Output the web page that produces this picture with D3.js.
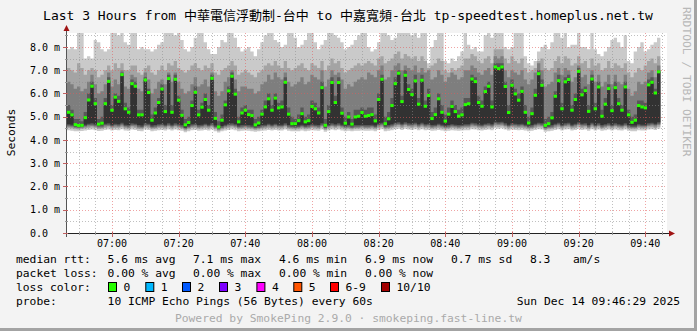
<!DOCTYPE html>
<html>
<head>
<meta charset="utf-8">
<script src="https://cdn.jsdelivr.net/npm/d3@7"></script>
<style>
  body { margin: 0; background: #f3f3f3; }
  svg { display: block; }
  text { font-family: "DejaVu Sans Mono", "Noto Sans CJK TC", monospace; }
</style>
</head>
<body>
<svg id="chart" width="697" height="331"></svg>
<script>
// median rtt per 60s step, in ms (green marks)
const median = [
  5.19,5.08,4.66,4.62,4.63,4.96,5.72,6.31,5.56,4.68,4.72,5.56,6.52,5.28,5.84,5.66,6.81,5.34,5.19,6.42,6.31,5.08,5.08,6.58,6.04,4.85,5.16,5.61,6.19,5.22,
  6.64,5.19,6.61,5.71,5.06,4.65,4.75,5.48,6.05,5.08,5.41,5.74,5.28,6.65,4.93,4.56,4.85,5.51,6.11,6.74,5.97,4.78,5.16,5.28,5.09,5.05,4.65,4.73,5.11,5.42,
  5.77,5.28,5.80,5.38,5.42,6.48,5.11,4.70,4.70,4.83,5.13,4.78,4.83,5.44,5.34,5.16,6.25,4.63,5.22,6.47,5.61,6.47,5.15,4.72,4.99,4.68,4.99,5.02,5.18,5.02,
  5.05,5.09,4.82,5.74,6.61,4.70,4.91,5.48,6.42,6.87,5.65,6.78,6.17,5.95,6.54,5.54,6.57,5.45,5.91,4.92,5.09,5.77,5.19,4.81,5.11,5.44,5.22,5.02,5.08,5.52,
  5.56,6.62,6.51,5.61,5.45,6.08,6.31,5.42,7.14,7.07,7.14,6.30,5.18,6.35,5.98,5.71,6.09,5.19,4.73,5.13,5.92,6.85,6.35,4.63,4.70,4.95,5.88,6.55,5.34,6.50,
  6.60,5.28,5.74,6.95,5.94,6.12,5.23,6.62,5.34,6.28,5.02,5.54,6.21,5.26,6.25,5.56,5.28,6.28,5.08,4.76,4.85,5.48,5.42,5.38,6.37,6.48,6.02,6.93
];

// sorted pings, upper half (smoke tops), ms
const ping10 = [
  7.9,8.0,7.9,8.6,8.6,7.5,7.6,7.5,8.3,8.2,7.9,7.8,7.9,8.6,8.6,8.5,8.6,8.2,8.1,8.6,8.6,7.9,8.0,7.9,7.9,7.8,7.9,8.1,8.2,8.6,
  8.6,8.6,8.5,8.6,8.3,7.9,7.8,8.0,8.4,8.6,8.6,8.2,7.9,7.7,7.7,8.0,8.3,8.2,8.6,8.6,8.4,8.0,7.8,7.9,8.0,7.8,7.6,7.9,8.2,8.5,
  8.6,8.6,8.3,8.2,8.0,8.1,8.6,8.6,8.4,8.0,8.1,8.3,8.6,8.6,8.2,7.9,8.1,8.3,8.6,8.6,8.5,8.4,8.2,7.9,8.0,8.1,8.3,8.5,8.6,8.6,
  8.0,7.8,7.9,8.2,8.6,8.6,8.5,8.3,8.4,8.6,8.6,8.6,8.6,8.5,8.6,8.4,8.6,8.6,7.3,8.0,8.3,8.6,8.6,7.4,7.3,7.5,7.4,7.6,7.8,8.6,
  8.1,7.9,8.0,7.8,7.8,8.5,8.6,8.4,8.6,8.6,8.6,8.0,7.9,8.0,8.6,8.6,8.6,7.6,7.3,7.2,7.4,7.8,8.0,8.1,7.9,8.2,8.6,8.6,8.4,8.6,
  8.0,8.1,8.1,8.6,8.0,8.0,7.9,8.6,7.9,7.7,7.6,7.8,8.0,8.3,8.4,8.2,8.0,8.5,7.4,7.3,7.8,8.0,8.2,7.8,7.9,8.1,8.2,8.4
];
const ping9 = [
  7.1,7.0,6.9,7.3,7.1,6.8,7.0,7.1,7.0,6.7,6.8,7.0,7.2,7.0,7.3,7.1,7.3,7.0,7.0,7.2,7.2,6.9,6.8,7.1,7.2,6.9,6.8,7.0,7.2,7.0,
  7.3,7.2,7.4,7.1,7.0,6.9,7.0,7.2,7.3,7.1,7.0,7.2,7.1,7.3,6.9,6.8,7.0,7.1,7.2,7.4,7.2,6.8,6.9,7.0,6.9,6.8,6.7,6.9,7.0,7.2,
  7.3,7.2,7.4,7.2,7.1,7.4,7.1,7.0,7.1,7.2,7.3,7.1,7.0,7.3,7.2,7.1,7.4,7.0,7.2,7.5,7.3,7.4,7.1,6.9,7.0,7.1,7.2,7.3,7.2,7.3,
  7.4,7.3,7.2,7.5,7.6,7.3,7.4,7.5,7.7,7.8,7.5,7.7,7.6,7.5,7.6,7.4,7.6,7.4,7.1,7.2,7.3,7.5,7.4,7.0,6.9,7.1,7.0,7.1,7.2,7.5,
  7.5,7.7,7.6,7.4,7.3,7.5,7.6,7.3,7.9,7.9,7.9,7.5,7.3,7.6,7.4,7.3,7.5,7.1,6.9,7.0,7.1,7.4,7.5,7.1,7.0,7.1,7.4,7.6,7.3,7.6,
  7.5,7.2,7.3,7.6,7.3,7.4,7.1,7.5,7.2,7.3,7.0,7.1,7.4,7.1,7.3,7.2,7.1,7.3,6.9,6.7,6.9,7.1,7.0,7.2,7.4,7.5,7.3,7.6
];
const ping8 = [
  6.5,6.4,6.2,6.3,6.1,6.2,6.5,6.8,6.4,6.0,6.1,6.4,6.9,6.3,6.6,6.4,7.0,6.3,6.2,6.8,6.7,6.2,6.1,6.9,6.6,6.0,6.2,6.5,6.6,6.4,
  6.9,6.5,6.9,6.5,6.2,6.0,6.1,6.4,6.7,6.3,6.4,6.6,6.3,6.9,6.1,5.9,6.1,6.5,6.7,7.0,6.6,6.1,6.3,6.3,6.2,6.2,6.0,6.1,6.4,6.5,
  6.8,6.6,6.9,6.7,6.6,6.9,6.5,6.3,6.4,6.5,6.7,6.4,6.5,6.8,6.7,6.6,7.0,6.3,6.6,7.0,6.8,6.9,6.6,6.2,6.4,6.3,6.5,6.6,6.7,6.6,
  6.9,6.8,6.7,7.0,7.2,6.6,6.7,7.0,7.2,7.3,7.0,7.2,7.1,7.0,7.2,6.9,7.1,6.9,7.0,6.6,6.7,7.0,6.8,6.5,6.7,6.9,6.8,6.6,6.7,7.0,
  7.0,7.2,7.1,6.9,6.8,7.0,7.1,6.8,7.6,7.5,7.6,7.0,6.7,7.0,6.9,6.8,7.0,6.6,6.4,6.6,6.9,7.3,7.0,6.3,6.4,6.5,6.9,7.1,6.8,7.1,
  7.0,6.5,6.7,7.2,6.7,6.8,6.4,7.0,6.5,6.8,6.3,6.5,6.8,6.4,6.8,6.5,6.4,6.8,6.2,5.9,6.1,6.5,6.4,6.5,6.9,7.0,6.7,7.2
];
const ping7 = [
  5.5,5.3,4.9,4.9,4.8,5.2,6.0,6.5,5.8,4.9,5.0,5.8,6.7,5.5,6.0,5.9,6.9,5.6,5.4,6.6,6.5,5.3,5.3,6.7,6.2,5.1,5.4,5.8,6.4,5.5,
  6.8,5.5,6.8,5.9,5.3,4.9,5.0,5.7,6.3,5.3,5.6,6.0,5.5,6.8,5.2,4.8,5.1,5.7,6.3,6.9,6.2,5.0,5.4,5.5,5.3,5.3,4.9,5.0,5.3,5.7,
  6.0,5.5,6.0,5.6,5.7,6.7,5.4,5.0,4.9,5.1,5.4,5.0,5.1,5.7,5.6,5.4,6.5,4.9,5.5,6.7,5.9,6.7,5.4,5.0,5.2,4.9,5.3,5.3,5.4,5.3,
  5.4,5.4,5.1,6.0,6.8,5.0,5.2,5.8,6.7,7.0,5.9,7.0,6.4,6.2,6.8,5.8,6.8,5.7,6.2,5.2,5.4,6.0,5.5,5.1,5.4,5.7,5.5,5.3,5.4,5.8,
  5.8,6.8,6.7,5.9,5.7,6.3,6.5,5.7,7.3,7.3,7.3,6.5,5.5,6.6,6.2,6.0,6.3,5.5,5.0,5.4,6.2,7.0,6.6,4.9,5.0,5.2,6.1,6.8,5.6,6.7,
  6.8,5.5,6.0,7.1,6.2,6.3,5.5,6.8,5.6,6.5,5.3,5.8,6.4,5.5,6.5,5.8,5.5,6.5,5.3,5.0,5.1,5.7,5.7,5.6,6.6,6.7,6.2,7.0
];
// sorted pings, lower half (smoke bottoms), ms
const ping5 = [
  4.68,4.66,4.60,4.58,4.60,4.66,4.70,4.72,4.68,4.62,4.64,4.70,4.72,4.66,4.70,4.68,4.74,4.66,4.64,4.72,4.70,4.64,4.62,4.72,4.70,4.62,4.64,4.68,4.70,4.66,
  4.72,4.66,4.72,4.68,4.64,4.54,4.62,4.68,4.70,4.64,4.66,4.70,4.66,4.72,4.62,4.52,4.60,4.66,4.70,4.72,4.68,4.62,4.64,4.66,4.64,4.62,4.58,4.60,4.64,4.66,
  4.70,4.66,4.70,4.66,4.66,4.72,4.64,4.62,4.60,4.62,4.66,4.62,4.64,4.68,4.66,4.64,4.72,4.58,4.66,4.72,4.68,4.72,4.66,4.62,4.64,4.60,4.64,4.64,4.66,4.64,
  4.64,4.66,4.62,4.70,4.74,4.62,4.64,4.68,4.74,4.76,4.70,4.76,4.72,4.70,4.74,4.68,4.74,4.68,4.70,4.64,4.66,4.70,4.66,4.62,4.64,4.68,4.66,4.64,4.66,4.68,
  4.68,4.74,4.72,4.68,4.66,4.70,4.72,4.68,4.78,4.76,4.78,4.72,4.66,4.72,4.70,4.68,4.70,4.66,4.62,4.64,4.70,4.74,4.72,4.58,4.62,4.64,4.70,4.74,4.66,4.72,
  4.74,4.66,4.70,4.76,4.70,4.72,4.64,4.74,4.66,4.72,4.64,4.68,4.72,4.66,4.72,4.68,4.66,4.72,4.64,4.62,4.62,4.68,4.66,4.66,4.72,4.74,4.70,4.76
];
const ping4 = [
  4.62,4.60,4.56,4.54,4.56,4.60,4.64,4.66,4.62,4.58,4.58,4.64,4.66,4.60,4.64,4.62,4.68,4.60,4.58,4.66,4.64,4.58,4.56,4.66,4.64,4.56,4.58,4.62,4.64,4.60,
  4.66,4.60,4.66,4.62,4.58,4.50,4.56,4.62,4.64,4.58,4.60,4.64,4.60,4.66,4.56,4.48,4.54,4.60,4.64,4.66,4.62,4.56,4.58,4.60,4.58,4.56,4.52,4.54,4.58,4.60,
  4.64,4.60,4.64,4.60,4.60,4.66,4.58,4.56,4.54,4.56,4.60,4.56,4.58,4.62,4.60,4.58,4.66,4.52,4.60,4.66,4.62,4.66,4.60,4.56,4.58,4.54,4.58,4.58,4.60,4.58,
  4.58,4.60,4.56,4.64,4.68,4.56,4.58,4.62,4.68,4.70,4.64,4.70,4.66,4.64,4.68,4.62,4.68,4.62,4.64,4.58,4.60,4.64,4.60,4.56,4.58,4.62,4.60,4.58,4.60,4.62,
  4.62,4.68,4.66,4.62,4.60,4.64,4.66,4.62,4.72,4.70,4.72,4.66,4.60,4.66,4.64,4.62,4.64,4.60,4.56,4.58,4.64,4.68,4.66,4.52,4.56,4.58,4.64,4.68,4.60,4.66,
  4.68,4.60,4.64,4.70,4.64,4.66,4.58,4.68,4.60,4.66,4.58,4.62,4.66,4.60,4.66,4.62,4.60,4.66,4.58,4.56,4.56,4.62,4.60,4.60,4.66,4.68,4.64,4.70
];
const ping3 = [
  4.57,4.55,4.51,4.50,4.52,4.55,4.58,4.60,4.57,4.53,4.53,4.58,4.60,4.55,4.58,4.57,4.62,4.55,4.53,4.60,4.58,4.53,4.51,4.60,4.58,4.51,4.53,4.57,4.58,4.55,
  4.60,4.55,4.60,4.57,4.53,4.46,4.51,4.57,4.58,4.53,4.55,4.58,4.55,4.60,4.51,4.44,4.50,4.55,4.58,4.60,4.57,4.51,4.53,4.55,4.53,4.51,4.48,4.50,4.53,4.55,
  4.58,4.55,4.58,4.55,4.55,4.60,4.53,4.51,4.50,4.51,4.55,4.51,4.53,4.57,4.55,4.53,4.60,4.48,4.55,4.60,4.57,4.60,4.55,4.51,4.53,4.50,4.53,4.53,4.55,4.53,
  4.53,4.55,4.51,4.58,4.62,4.51,4.53,4.57,4.62,4.64,4.58,4.64,4.60,4.58,4.62,4.57,4.62,4.57,4.58,4.53,4.55,4.58,4.55,4.51,4.53,4.57,4.55,4.53,4.55,4.57,
  4.57,4.62,4.60,4.57,4.55,4.58,4.60,4.57,4.66,4.64,4.66,4.60,4.55,4.60,4.58,4.57,4.58,4.55,4.51,4.53,4.58,4.62,4.60,4.48,4.51,4.53,4.58,4.62,4.55,4.60,
  4.62,4.55,4.58,4.64,4.58,4.60,4.53,4.62,4.55,4.60,4.53,4.57,4.60,4.55,4.60,4.57,4.55,4.60,4.53,4.51,4.51,4.57,4.55,4.55,4.60,4.62,4.58,4.64
];
const ping2 = [
  4.51,4.49,4.46,4.45,4.47,4.49,4.52,4.54,4.51,4.47,4.48,4.52,4.54,4.49,4.52,4.51,4.55,4.49,4.48,4.54,4.52,4.47,4.46,4.54,4.52,4.46,4.48,4.51,4.52,4.49,
  4.54,4.49,4.54,4.51,4.48,4.41,4.46,4.51,4.52,4.48,4.49,4.52,4.49,4.54,4.46,4.40,4.45,4.49,4.52,4.54,4.51,4.46,4.48,4.49,4.48,4.46,4.43,4.45,4.48,4.49,
  4.52,4.49,4.52,4.49,4.49,4.54,4.48,4.46,4.45,4.46,4.49,4.46,4.48,4.51,4.49,4.48,4.54,4.43,4.49,4.54,4.51,4.54,4.49,4.46,4.48,4.45,4.48,4.48,4.49,4.48,
  4.48,4.49,4.46,4.52,4.55,4.46,4.48,4.51,4.55,4.57,4.52,4.57,4.54,4.52,4.55,4.51,4.55,4.51,4.52,4.48,4.49,4.52,4.49,4.46,4.48,4.51,4.49,4.48,4.49,4.51,
  4.51,4.55,4.54,4.51,4.49,4.52,4.54,4.51,4.59,4.57,4.59,4.54,4.49,4.54,4.52,4.51,4.52,4.49,4.46,4.48,4.52,4.55,4.54,4.43,4.46,4.48,4.52,4.55,4.49,4.54,
  4.55,4.49,4.52,4.57,4.52,4.54,4.48,4.55,4.49,4.54,4.48,4.51,4.54,4.49,4.54,4.51,4.49,4.54,4.48,4.46,4.46,4.51,4.49,4.49,4.54,4.55,4.52,4.57
];
const ping1 = [
  4.42,4.40,4.38,4.37,4.39,4.41,4.43,4.45,4.42,4.39,4.40,4.43,4.45,4.41,4.43,4.42,4.46,4.41,4.40,4.45,4.43,4.39,4.38,4.45,4.43,4.38,4.40,4.42,4.43,4.41,
  4.45,4.41,4.45,4.42,4.40,4.33,4.38,4.42,4.43,4.40,4.41,4.43,4.41,4.45,4.38,4.32,4.37,4.41,4.43,4.45,4.42,4.38,4.40,4.41,4.40,4.38,4.35,4.37,4.40,4.41,
  4.43,4.41,4.43,4.41,4.41,4.45,4.40,4.38,4.37,4.38,4.41,4.38,4.40,4.42,4.41,4.40,4.45,4.35,4.41,4.45,4.42,4.45,4.41,4.38,4.40,4.37,4.40,4.40,4.41,4.40,
  4.40,4.41,4.38,4.43,4.46,4.38,4.40,4.42,4.46,4.48,4.43,4.48,4.45,4.43,4.46,4.42,4.46,4.42,4.43,4.40,4.41,4.43,4.41,4.38,4.40,4.42,4.41,4.40,4.41,4.42,
  4.42,4.46,4.45,4.42,4.41,4.43,4.45,4.42,4.50,4.48,4.50,4.45,4.41,4.45,4.43,4.42,4.43,4.41,4.38,4.40,4.43,4.46,4.45,4.35,4.38,4.40,4.43,4.46,4.41,4.45,
  4.46,4.41,4.43,4.48,4.43,4.45,4.40,4.46,4.41,4.45,4.40,4.42,4.45,4.41,4.45,4.42,4.41,4.45,4.40,4.38,4.38,4.42,4.41,4.41,4.45,4.46,4.43,4.48
];

const yTicks = [0, 1, 2, 3, 4, 5, 6, 7, 8];
const yTickLabels = ["0.0", "1.0 m", "2.0 m", "3.0 m", "4.0 m", "5.0 m", "6.0 m", "7.0 m", "8.0 m"];

const lossLabels = ["0", "1", "2", "3", "4", "5", "6-9", "10/10"];
const lossColors = ["#26ff00", "#00b8ff", "#0059ff", "#7e00ff", "#ff00ff", "#ff5500", "#ff0000", "#a10000"];

const title = "Last 3 Hours from 中華電信浮動制-台中 to 中嘉寬頻-台北 tp-speedtest.homeplus.net.tw";
const rttStats = ["5.6 ms avg", "7.1 ms max", "4.6 ms min", "6.9 ms now", "0.7 ms sd", "8.3", "am/s"];
const lossStats = ["0.00 % avg", "0.00 % max", "0.00 % min", "0.00 % now"];

const startTime = new Date(2025, 11, 14, 6, 46, 30);
const endTime = new Date(2025, 11, 14, 9, 46, 30);
const yMax = 8.6;

const svg = d3.select("#chart");

// frame shading
svg.append("rect").attr("x", 0).attr("y", 0).attr("width", 697).attr("height", 331).attr("fill", "#f3f3f3");
svg.append("rect").attr("x", 694).attr("y", 0).attr("width", 3).attr("height", 331).attr("fill", "#a3a3a3");
svg.append("rect").attr("x", 0).attr("y", 328).attr("width", 697).attr("height", 3).attr("fill", "#a3a3a3");

const x = d3.scaleTime().domain([startTime, endTime]).range([67, 667]);
const y = d3.scaleLinear().domain([0, yMax]).range([233, 33]);

svg.append("rect").attr("x", 67).attr("y", 33).attr("width", 600).attr("height", 200).attr("fill", "#ffffff");

// smoke
const stepTime = k => new Date(+startTime + k * 60000);
const bounds = d3.range(median.length + 1);
const at = (arr, k) => arr[Math.min(k, arr.length - 1)];

const layers = [
  [ping1, ping10, "#cacaca"],
  [ping2, ping9, "#a4a4a4"],
  [ping3, ping8, "#7e7e7e"],
  [ping4, ping7, "#585858"],
  [ping5, median, "#323232"]
];

layers.forEach(function(layer) {
  const area = d3.area()
    .curve(d3.curveStepAfter)
    .x(function(k) { return x(stepTime(k)); })
    .y0(function(k) { return y(at(layer[0], k)); })
    .y1(function(k) { return y(Math.min(at(layer[1], k), yMax)); });
  svg.append("path").datum(bounds).attr("d", area).attr("fill", layer[2]);
});

// grid, drawn over the smoke
const grid = svg.append("g").attr("shape-rendering", "crispEdges");
const minorTimes = d3.timeMinute.every(5).range(startTime, endTime);
grid.selectAll(".vminor")
  .data(minorTimes.filter(function(d) { return d.getMinutes() % 20 !== 0; }))
  .enter().append("line")
  .attr("x1", function(d) { return Math.round(x(d)) + 0.5; })
  .attr("x2", function(d) { return Math.round(x(d)) + 0.5; })
  .attr("y1", 33).attr("y2", 233)
  .attr("stroke", "rgba(140,140,140,0.55)").attr("stroke-dasharray", "1,2");
grid.selectAll(".hminor")
  .data(d3.range(0.5, 8.6, 1))
  .enter().append("line")
  .attr("x1", 67).attr("x2", 667)
  .attr("y1", function(d) { return Math.round(y(d)) + 0.5; })
  .attr("y2", function(d) { return Math.round(y(d)) + 0.5; })
  .attr("stroke", "rgba(140,140,140,0.55)").attr("stroke-dasharray", "1,2");

const majorTimes = d3.timeMinute.every(20).range(startTime, endTime);
grid.selectAll(".vmajor")
  .data(majorTimes)
  .enter().append("line")
  .attr("x1", function(d) { return Math.round(x(d)) + 0.5; })
  .attr("x2", function(d) { return Math.round(x(d)) + 0.5; })
  .attr("y1", 33).attr("y2", 233)
  .attr("stroke", "rgba(225,90,90,0.55)").attr("stroke-dasharray", "1,2");
grid.selectAll(".hmajor")
  .data(yTicks.slice(1))
  .enter().append("line")
  .attr("x1", 67).attr("x2", 667)
  .attr("y1", function(d) { return Math.round(y(d)) + 0.5; })
  .attr("y2", function(d) { return Math.round(y(d)) + 0.5; })
  .attr("stroke", "rgba(225,90,90,0.55)").attr("stroke-dasharray", "1,2");

// median marks
svg.append("g").selectAll("rect")
  .data(median)
  .enter().append("rect")
  .attr("x", function(d, k) { return x(stepTime(k)); })
  .attr("width", function(d, k) { return x(stepTime(k + 1)) - x(stepTime(k)); })
  .attr("y", function(d) { return y(d) - 1.5; })
  .attr("height", 3)
  .attr("fill", lossColors[0]);

// axes
const axis = svg.append("g").attr("shape-rendering", "crispEdges");
axis.append("line").attr("x1", 63).attr("x2", 670).attr("y1", 233.5).attr("y2", 233.5).attr("stroke", "#222");
axis.append("line").attr("x1", 66.5).attr("x2", 66.5).attr("y1", 237).attr("y2", 30).attr("stroke", "#555");
svg.append("path").attr("d", "M669,230.5 L675,233.5 L669,236.5 Z").attr("fill", "#a01414");
svg.append("path").attr("d", "M63.5,31 L66.5,25 L69.5,31 Z").attr("fill", "#a01414");

axis.selectAll(".xtick")
  .data(minorTimes)
  .enter().append("line")
  .attr("x1", function(d) { return Math.round(x(d)) + 0.5; })
  .attr("x2", function(d) { return Math.round(x(d)) + 0.5; })
  .attr("y1", 232).attr("y2", function(d) { return d.getMinutes() % 20 === 0 ? 237 : 235; })
  .attr("stroke", function(d) { return d.getMinutes() % 20 === 0 ? "#c06060" : "#999"; });

axis.selectAll(".ytick")
  .data(d3.range(0, 8.6, 0.5))
  .enter().append("line")
  .attr("x1", function(d) { return d % 1 === 0 ? 63 : 65; }).attr("x2", 68)
  .attr("y1", function(d) { return Math.round(y(d)) + 0.5; })
  .attr("y2", function(d) { return Math.round(y(d)) + 0.5; })
  .attr("stroke", function(d) { return d % 1 === 0 ? "#c06060" : "#999"; });

svg.append("g").selectAll("text")
  .data(majorTimes)
  .enter().append("text")
  .attr("x", function(d) { return x(d); })
  .attr("y", 246.5)
  .attr("text-anchor", "middle")
  .attr("font-size", "10px")
  .text(d3.timeFormat("%H:%M"));

svg.append("g").selectAll("text")
  .data(yTicks)
  .enter().append("text")
  .attr("x", 30)
  .attr("y", function(d) { return y(d) + 3.6; })
  .attr("font-size", "10px")
  .text(function(d, i) { return yTickLabels[i]; });

svg.append("text")
  .attr("transform", "translate(15,132.5) rotate(-90)")
  .attr("text-anchor", "middle")
  .attr("font-size", "11.3px")
  .text("Seconds");

svg.append("text")
  .attr("x", 348).attr("y", 19.5)
  .attr("text-anchor", "middle")
  .attr("font-size", "13px")
  .text(title);

svg.append("text")
  .attr("transform", "translate(683,7) rotate(90)")
  .attr("font-size", "11.3px")
  .attr("fill", "#b8b8b8")
  .text("RRDTOOL / TOBI OETIKER");

// legend
const legend = svg.append("g").attr("font-size", "11.3px").attr("fill", "#000");
const statX = [107.6, 193, 279, 365, 451, 530, 573];
legend.append("text").attr("x", 16).attr("y", 263).text("median rtt:");
rttStats.forEach(function(s, i) {
  legend.append("text").attr("x", statX[i]).attr("y", 263).text(s);
});
legend.append("text").attr("x", 16).attr("y", 277).text("packet loss:");
lossStats.forEach(function(s, i) {
  legend.append("text").attr("x", statX[i]).attr("y", 277).text(s);
});
legend.append("text").attr("x", 16).attr("y", 291).text("loss color:");
const boxX = [108, 145.3, 182, 219, 256.4, 293.3, 330, 381];
lossLabels.forEach(function(l, i) {
  legend.append("rect")
    .attr("x", boxX[i] + 0.5).attr("y", 282.5)
    .attr("width", 8).attr("height", 9)
    .attr("fill", lossColors[i]).attr("stroke", "#000").attr("stroke-width", 1);
  legend.append("text").attr("x", boxX[i] + 15.5).attr("y", 291).text(l);
});
legend.append("text").attr("x", 16).attr("y", 305).text("probe:");
legend.append("text").attr("x", 107.6).attr("y", 305).text("10 ICMP Echo Pings (56 Bytes) every 60s");
legend.append("text").attr("x", 680).attr("y", 305).attr("text-anchor", "end").text("Sun Dec 14 09:46:29 2025");

svg.append("text")
  .attr("x", 348.4).attr("y", 322)
  .attr("text-anchor", "middle")
  .attr("font-size", "11.3px")
  .attr("fill", "#aaaaaa")
  .text("Powered by SmokePing 2.9.0 · smokeping.fast-line.tw");
</script>
</body>
</html>
